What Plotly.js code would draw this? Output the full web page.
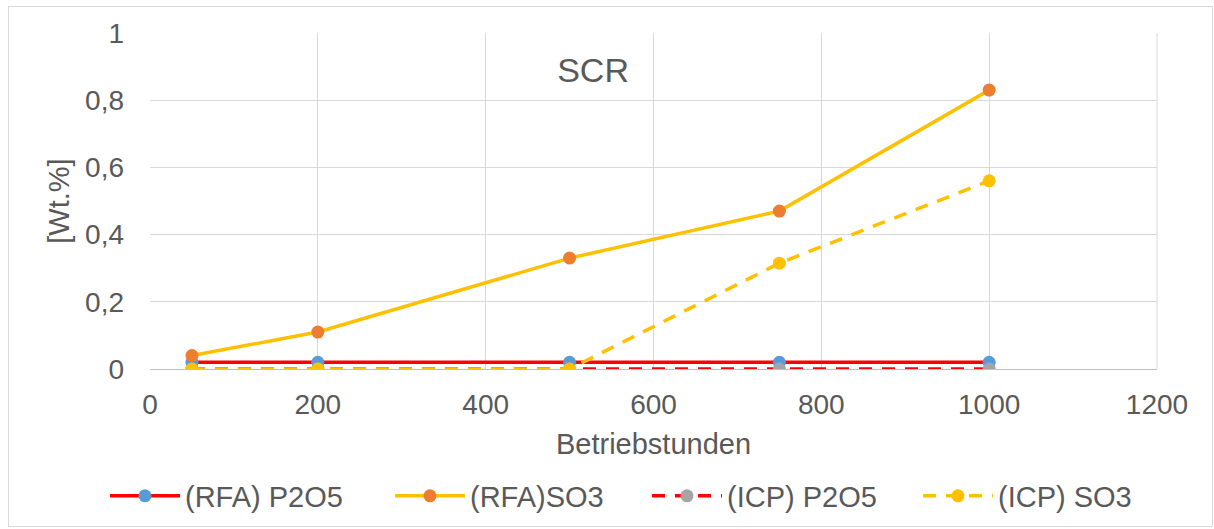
<!DOCTYPE html>
<html>
<head>
<meta charset="utf-8">
<script src="https://cdn.plot.ly/plotly-3.0.1.min.js"></script>
<style>
  html, body { margin: 0; padding: 0; background: #ffffff; }
  #frame { position: absolute; left: 8px; top: 6px; width: 1205px; height: 521px; border: 1px solid #D9D9D9; box-sizing: border-box; }
  #chart { position: absolute; left: 0; top: 0; width: 1214px; height: 529px; }
</style>
</head>
<body>
<div id="frame"></div>
<div id="chart"></div>
<script>
// Data
const hours = [50, 200, 500, 750, 1000];
const rfaP2O5 = [0.02, 0.02, 0.02, 0.02, 0.02];
const rfaSO3 = [0.04, 0.11, 0.33, 0.47, 0.83];
const icpP2O5 = [0, 0, 0, 0, 0];
const icpSO3 = [0, 0, 0, 0.315, 0.56];
const seriesNames = ['(RFA) P2O5', '(RFA)SO3', '(ICP) P2O5', '(ICP) SO3'];
const xTicks = [0, 200, 400, 600, 800, 1000, 1200];
const yTicks = [0, 0.2, 0.4, 0.6, 0.8, 1];
const yTickText = ['0', '0,2', '0,4', '0,6', '0,8', '1'];

const RED = '#FF0000', YEL = '#FFC000', BLUE = '#5B9BD5', ORANGE = '#ED7D31', GRAY = '#A5A5A5';
const MS = 13, LW = 3.5, DASH = '13px,10px';

const traces = [
  { x: hours, y: rfaP2O5, name: seriesNames[0], mode: 'lines+markers', legend: 'legend',
    line: { color: RED, width: LW }, marker: { color: BLUE, size: MS } },
  { x: hours, y: rfaSO3, name: seriesNames[1], mode: 'lines+markers', legend: 'legend2',
    line: { color: YEL, width: LW }, marker: { color: ORANGE, size: MS } },
  { x: hours, y: icpP2O5, name: seriesNames[2], mode: 'lines+markers', legend: 'legend3',
    line: { color: RED, width: LW, dash: DASH }, marker: { color: GRAY, size: MS } },
  { x: hours, y: icpSO3, name: seriesNames[3], mode: 'lines+markers', legend: 'legend4',
    line: { color: YEL, width: LW, dash: DASH }, marker: { color: YEL, size: MS } }
];

const FAM = 'Liberation Sans, Arial, sans-serif';
const tickFont = { family: FAM, size: 28, color: '#595959' };
const titleFont = { family: FAM, size: 29, color: '#595959' };

function legendAt(px) {
  return {
    orientation: 'h', xref: 'container', x: px / 1214, xanchor: 'left',
    yref: 'container', y: 1 - 496/529, yanchor: 'middle',
    font: titleFont, itemwidth: 70, bgcolor: 'rgba(0,0,0,0)'
  };
}

const layout = {
  width: 1214, height: 529,
  margin: { l: 150, r: 57, t: 33, b: 160, autoexpand: false },
  paper_bgcolor: 'rgba(0,0,0,0)',
  plot_bgcolor: '#ffffff',
  font: tickFont,
  separators: ', ',
  showlegend: true,
  title: { text: 'SCR', font: { family: FAM, size: 34, color: '#595959' },
           xref: 'paper', x: 0.44, xanchor: 'center', yref: 'container', y: 1 - 70/529, yanchor: 'middle' },
  xaxis: {
    range: [0, 1200], tickvals: xTicks, ticktext: xTicks.map(String),
    showgrid: true, gridcolor: '#D9D9D9', gridwidth: 1,
    zeroline: false, showline: true, linecolor: '#BFBFBF', linewidth: 1, mirror: false,
    ticks: '', ticklabelstandoff: 10,
    tickfont: tickFont,
    title: { text: 'Betriebstunden', font: titleFont, standoff: 15 },
    automargin: true,
    fixedrange: true
  },
  yaxis: {
    range: [0, 1], tickvals: yTicks, ticktext: yTickText,
    showgrid: true, gridcolor: '#D9D9D9', gridwidth: 1,
    zeroline: false, showline: false,
    ticks: '', ticklabelstandoff: 25,
    tickfont: tickFont,
    title: { text: '[Wt.%]', font: titleFont, standoff: 6 },
    automargin: false,
    fixedrange: true
  },
  shapes: [
    { type: 'line', xref: 'paper', yref: 'paper', x0: 1, x1: 1, y0: 0, y1: 1, line: { color: '#D9D9D9', width: 1 }, layer: 'below' }
  ],
  legend: legendAt(105),
  legend2: legendAt(390),
  legend3: legendAt(647),
  legend4: legendAt(918)
};

Plotly.newPlot('chart', traces, layout, { displayModeBar: false, staticPlot: true });
</script>
</body>
</html>
